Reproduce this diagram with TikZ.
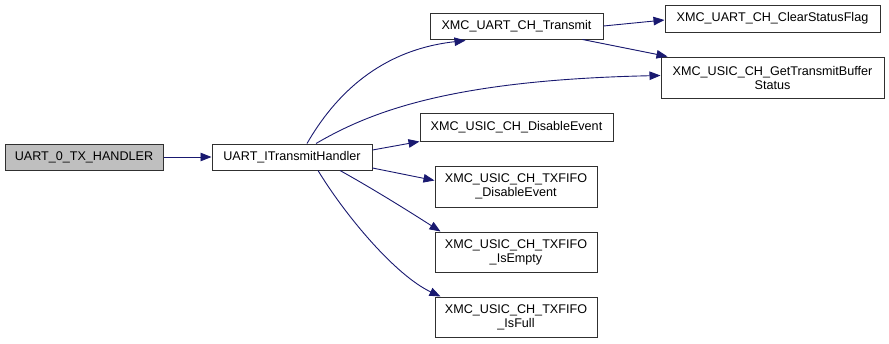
\documentclass[tikz,border=0pt]{standalone}
\usepackage{fontspec}
\setmainfont{Liberation Sans}
\usetikzlibrary{arrows.meta,calc}
\definecolor{edgeblue}{HTML}{191970}
\definecolor{boxline}{HTML}{303030}
\definecolor{rootfill}{HTML}{BFBFBF}
\tikzset{
  fn/.style={draw=boxline, line width=1pt, fill=white, inner sep=0pt,
    font=\fontsize{12.6}{14}\selectfont, align=center},
  rootfn/.style={fn, fill=rootfill},
  call/.style={draw=edgeblue, line width=0.9pt,
    -{Triangle[length=11pt,width=8.5pt]}},
}
\begin{document}
\begin{tikzpicture}[x=1pt,y=-1pt]
\useasboundingbox (0,0) rectangle (889,343);
% functions
\node[rootfn, minimum width=158pt, minimum height=26pt] (h0) at (84,157) {UART\_0\_TX\_HANDLER};
\node[fn, minimum width=160pt, minimum height=26pt] (ith) at (292,157) {UART\_ITransmitHandler};
\node[fn, minimum width=173pt, minimum height=26pt] (tr) at (516.5,26) {XMC\_UART\_CH\_Transmit};
\node[fn, minimum width=215pt, minimum height=27pt] (csf) at (772.5,18.5) {XMC\_UART\_CH\_ClearStatusFlag};
\node[fn, minimum width=223pt, minimum height=41pt] (gtb) at (772.5,77.5) {XMC\_USIC\_CH\_GetTransmitBuffer\\Status};
\node[fn, minimum width=193pt, minimum height=28pt] (dev) at (516.5,127) {XMC\_USIC\_CH\_DisableEvent};
\node[fn, minimum width=162pt, minimum height=41pt] (tde) at (516,186.5) {XMC\_USIC\_CH\_TXFIFO\\\_DisableEvent};
\node[fn, minimum width=162pt, minimum height=40pt] (emp) at (516,252) {XMC\_USIC\_CH\_TXFIFO\\\_IsEmpty};
\node[fn, minimum width=162pt, minimum height=40pt] (full) at (516,317) {XMC\_USIC\_CH\_TXFIFO\\\_IsFull};
% calls
\draw[call] (h0.east) -- (ith.west);
\draw[call] ($(ith.north)+(15,0)$) .. controls (335,95) and (380,50) .. ($(tr.south west)+(36,1)$);
\draw[call] ($(ith.north)+(24,0)$) .. controls (370,112) and (450,80) .. ($(gtb.west)+(0,-2)$);
\draw[call] ($(ith.east)+(0,-7)$) -- ($(dev.south west)+(0,0)$);
\draw[call] ($(ith.east)+(0,11)$) -- ($(tde.west)+(0,-6)$);
\draw[call] ($(ith.south)+(48,0)$) .. controls (375,190) and (410,212) .. ($(emp.north west)+(6,0)$);
\draw[call] ($(ith.south)+(26,0)$) .. controls (345,215) and (395,275) .. ($(full.north west)+(6,0)$);
\draw[call] (tr.east) -- ($(csf.west)+(0,1.5)$);
\draw[call] ($(tr.south)+(66,0)$) -- ($(gtb.north west)+(7,0)$);
\end{tikzpicture}
\end{document}
